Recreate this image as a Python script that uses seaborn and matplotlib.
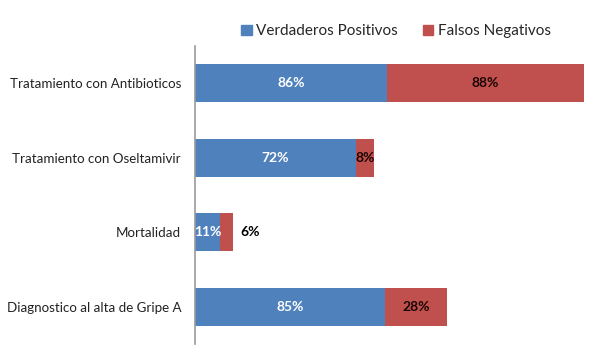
import pandas as pd
import matplotlib.pyplot as plt
import seaborn as sns
from matplotlib.patches import Patch

# Datos
categorias = ['Tratamiento con Antibioticos', 'Tratamiento con Oseltamivir',
              'Mortalidad', 'Diagnostico al alta de Gripe A']
verdaderos_positivos = [86, 72, 11, 85]
falsos_negativos = [88, 8, 6, 28]

AZUL = '#4F81BD'
ROJO = '#C0504D'

sns.set_theme(style='white')
plt.rcParams['font.family'] = ['Lato', 'DejaVu Sans']

df = pd.DataFrame({'categoria': categorias,
                   'vp': verdaderos_positivos,
                   'fn': falsos_negativos})
df['total'] = df['vp'] + df['fn']

fig = plt.figure(figsize=(6, 3.47), dpi=100)
ax = fig.add_axes([0.325, 0.008, 0.67, 0.860])

# Barras apiladas: primero el total (rojo) y encima los positivos (azul)
sns.barplot(data=df, x='total', y='categoria', color=ROJO, width=0.51,
            saturation=1, ax=ax, orient='h', linewidth=0)
sns.barplot(data=df, x='vp', y='categoria', color=AZUL, width=0.51,
            saturation=1, ax=ax, orient='h', linewidth=0)

# Etiquetas de datos
for i, row in df.iterrows():
    ax.text(row['vp'] / 2, i, f"{row['vp']}%", ha='center', va='center',
            color='white', fontsize=10, fontweight='bold')
    if row['fn'] < 7:
        ax.annotate(f"{row['fn']}%", (row['total'], i), xytext=(5, 0),
                    textcoords='offset points', ha='left', va='center',
                    color='black', fontsize=10, fontweight='bold')
    else:
        ax.text(row['vp'] + row['fn'] / 2, i, f"{row['fn']}%", ha='center',
                va='center', color='#1a0505', fontsize=10, fontweight='bold')

ax.set_xlim(0, 180)
ax.set_ylim(3.5, -0.5)
ax.set_xlabel('')
ax.set_ylabel('')
ax.set_xticks([])
ax.tick_params(axis='y', length=0, pad=10, labelsize=9.6, colors='#222222')
for lado in ['top', 'right', 'bottom']:
    ax.spines[lado].set_visible(False)
ax.spines['left'].set_color('#9a9a9a')
ax.spines['left'].set_linewidth(1.2)

handles = [Patch(color=AZUL, label='Verdaderos Positivos'),
           Patch(color=ROJO, label='Falsos Negativos')]
fig.legend(handles=handles, loc='center', bbox_to_anchor=(0.66, 0.91),
           ncol=2, frameon=False, fontsize=11, handlelength=0.7,
           handleheight=0.7, handletextpad=0.3, columnspacing=1.6)

plt.savefig('out.png', dpi=100)
